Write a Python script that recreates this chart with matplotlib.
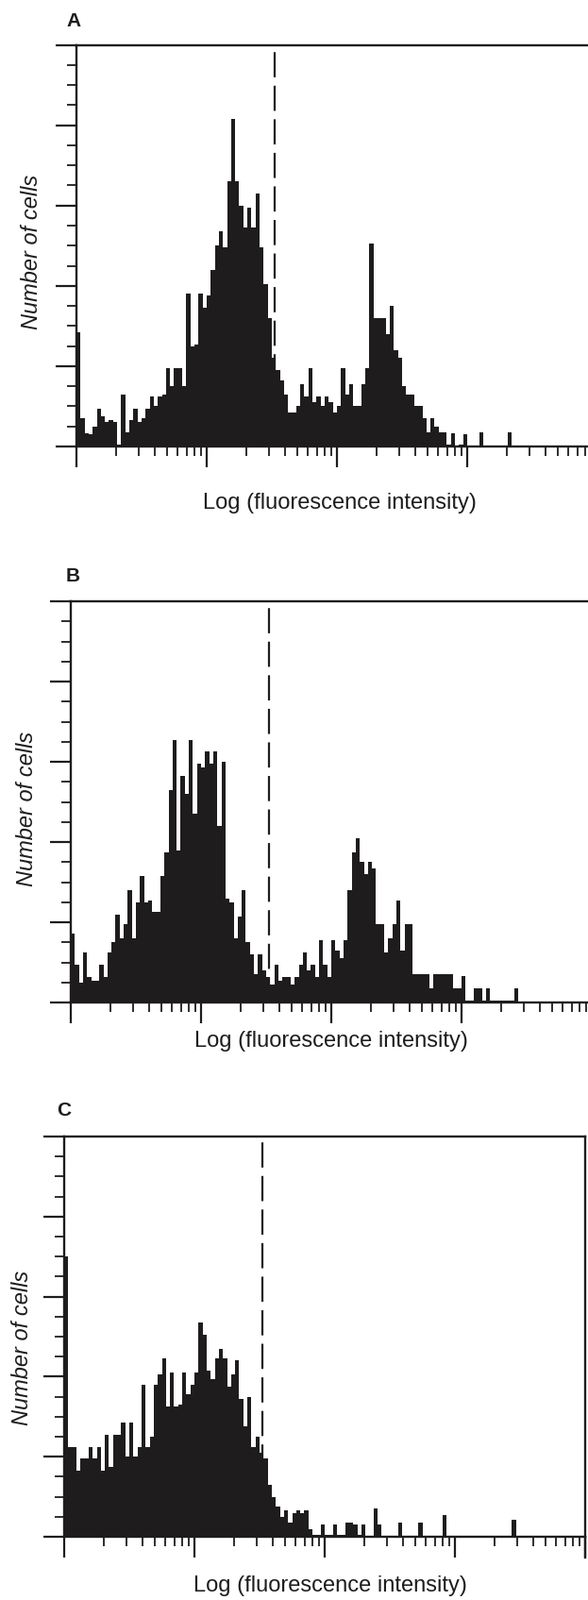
import numpy as np
import matplotlib
matplotlib.use("Agg")
import matplotlib.pyplot as plt
from matplotlib.ticker import LogLocator, MultipleLocator, NullFormatter

plt.rcParams['font.family'] = ['Liberation Sans', 'DejaVu Sans']

# histogram heights per channel (1/32 decade each), y in tick units (0-20)
counts_a = [5.7, 1.4, 0.65, 0.6, 1.0, 1.9, 1.5, 1.2, 1.3, 1.2,
            0.1, 2.6, 0.7, 1.3, 1.9, 1.2, 1.4, 1.9, 2.5, 2.0,
            2.5, 2.6, 3.9, 3.0, 3.9, 3.9, 3.0, 7.6, 5.0, 5.1,
            7.6, 6.9, 7.5, 8.8, 10.0, 10.7, 9.9, 13.2, 16.3, 13.2,
            12.0, 10.9, 11.9, 10.9, 12.6, 9.9, 8.1, 6.4, 4.4, 3.8,
            3.3, 2.6, 1.7, 1.7, 2.0, 3.1, 2.5, 3.9, 2.2, 2.5,
            2.0, 2.5, 2.2, 1.7, 2.0, 3.9, 2.6, 3.1, 2.0, 2.0,
            3.1, 3.9, 10.1, 6.4, 6.4, 6.4, 5.6, 7.0, 4.8, 4.4,
            3.0, 2.6, 2.6, 2.0, 2.0, 1.4, 0.7, 1.4, 1.0, 0.7,
            0.7, 0.1, 0.65, 0.05, 0.1, 0.6, 0, 0, 0, 0.7,
            0, 0, 0, 0, 0, 0, 0.7, 0, 0, 0,
            0, 0, 0, 0, 0, 0, 0, 0, 0, 0,
            0, 0, 0, 0, 0, 0, 0, 0]

counts_b = [3.45, 1.9, 1.0, 2.5, 1.25, 1.1, 1.1, 1.9, 1.25, 2.5,
            3.0, 4.4, 3.2, 3.9, 5.6, 3.2, 5.0, 6.3, 5.0, 5.1,
            4.5, 4.5, 6.3, 7.5, 10.6, 13.1, 7.6, 11.3, 10.4, 13.1,
            9.4, 11.9, 11.7, 12.5, 11.9, 12.5, 8.8, 12.0, 5.2, 5.0,
            3.2, 4.3, 5.6, 3.0, 2.4, 1.4, 2.4, 1.6, 1.25, 0.9,
            1.9, 1.1, 1.25, 1.25, 0.9, 1.25, 1.9, 2.5, 1.6, 1.9,
            1.25, 3.1, 1.9, 1.25, 3.1, 2.6, 2.2, 3.1, 5.6, 7.5,
            8.2, 7.0, 6.4, 7.0, 6.7, 3.9, 3.9, 2.5, 3.2, 3.9,
            5.1, 2.6, 3.9, 3.9, 1.4, 1.4, 1.4, 1.4, 0.7, 1.4,
            1.4, 1.4, 1.4, 1.4, 0.7, 0.7, 1.3, 0.1, 0.1, 0.7,
            0.7, 0.1, 0.7, 0.1, 0.1, 0.1, 0.1, 0.1, 0.1, 0.7,
            0, 0, 0, 0, 0, 0, 0, 0, 0, 0,
            0, 0, 0, 0, 0, 0, 0, 0]

counts_c = [14.0, 4.5, 4.5, 3.3, 3.9, 3.9, 4.5, 3.9, 4.5, 3.3,
            5.1, 3.5, 5.1, 5.1, 5.7, 4.0, 5.7, 4.0, 4.5, 7.6,
            4.5, 5.0, 7.6, 8.1, 8.9, 6.5, 8.2, 6.5, 6.6, 8.2,
            7.1, 7.6, 8.2, 10.7, 10.1, 8.3, 7.9, 8.9, 9.4, 8.9,
            7.5, 8.1, 8.8, 6.9, 5.5, 7.0, 4.5, 5.0, 4.2, 3.9,
            2.6, 2.0, 1.5, 1.0, 1.3, 0.7, 1.2, 1.3, 1.2, 1.3,
            0.4, 0.1, 0.1, 0.6, 0.1, 0.1, 0.6, 0.1, 0.1, 0.7,
            0.7, 0.6, 0.1, 0.6, 0, 0, 1.4, 0.6, 0, 0,
            0, 0, 0.7, 0, 0, 0, 0, 0.7, 0, 0,
            0, 0, 0, 1.1, 0, 0, 0, 0, 0, 0,
            0, 0, 0, 0, 0, 0, 0, 0, 0, 0,
            0.85, 0, 0, 0, 0, 0, 0, 0, 0, 0,
            0, 0, 0, 0, 0, 0, 0, 0]

panel_letters = ["A", "B", "C"]
gate_value = 33.5  # dashed marker position (fluorescence units)
x_label = "Log (fluorescence intensity)"
y_label = "Number of cells"

W, H = 623, 1695
ink = "#1e1c1d"

# pixel layout: left, right, top, bottom of each plot box
boxes = [(81, 633, 47.6, 473), (75, 627, 637, 1062), (68, 620, 1204, 1628)]
letter_pos = [(70, 22), (70, 611), (60, 1177)]
xlab_pos = [(360, 533), (351, 1103), (350, 1680)]
ylab_pos = [(34, 267), (29, 857), (23, 1428)]

fig = plt.figure(figsize=(W / 100, H / 100), dpi=100)
edges = np.logspace(0, 4, 129)

for k, counts in enumerate([counts_a, counts_b, counts_c]):
    l, r, t, b = boxes[k]
    ax = fig.add_axes([l / W, 1 - b / H, (r - l) / W, (b - t) / H])
    ax.stairs(counts, edges, fill=True, color=ink, baseline=0)
    ax.set_xscale("log")
    ax.set_xlim(1, 1e4)
    ax.set_ylim(0, 20)
    ax.axvline(gate_value, color=ink, lw=1.6, dashes=(12, 4))

    ax.xaxis.set_major_locator(LogLocator(base=10, numticks=10))
    ax.xaxis.set_minor_locator(LogLocator(base=10, subs=np.arange(2, 10), numticks=20))
    ax.xaxis.set_major_formatter(NullFormatter())
    ax.xaxis.set_minor_formatter(NullFormatter())
    ax.yaxis.set_major_locator(MultipleLocator(4))
    ax.yaxis.set_minor_locator(MultipleLocator(1))
    ax.yaxis.set_major_formatter(NullFormatter())
    ax.tick_params(axis="both", which="major", direction="out", length=16, width=1.6, color=ink)
    ax.tick_params(axis="both", which="minor", direction="out", length=7.5, width=1.3, color=ink)
    ax.tick_params(axis="x", which="both", top=False)
    ax.tick_params(axis="y", which="both", right=False)
    for s in ax.spines.values():
        s.set_linewidth(1.7)
        s.set_color(ink)
    if k == 2:
        # right spine reaches down like a major tick
        ax.plot([1e4, 1e4], [0, -1.05], color=ink, lw=1.7, clip_on=False)

    fig.text(letter_pos[k][0] / W, 1 - letter_pos[k][1] / H, panel_letters[k],
             fontsize=15, fontweight="bold", ha="left", va="center", color=ink)
    fig.text(xlab_pos[k][0] / W, 1 - xlab_pos[k][1] / H, x_label,
             fontsize=17, ha="center", va="center", color=ink)
    fig.text(ylab_pos[k][0] / W, 1 - ylab_pos[k][1] / H, y_label,
             fontsize=17, style="italic", rotation=90, ha="center", va="center", color=ink)

fig.savefig("out.png", dpi=100)
